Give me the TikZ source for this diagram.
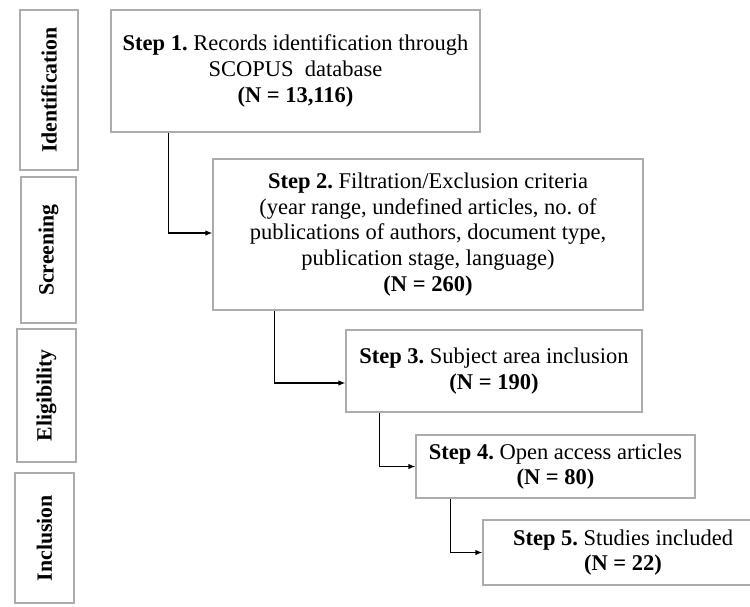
\documentclass[tikz,border=0pt]{standalone}
\usepackage{fontspec}
\setmainfont{Liberation Serif}
\usetikzlibrary{arrows.meta}
\begin{document}
\frenchspacing
\begin{tikzpicture}[x=1pt,y=1pt,
  stepbox/.style={draw=gray!65, line width=1.1pt, align=center, inner sep=0pt,
    font=\fontsize{22.5}{25.8}\selectfont},
  phasebox/.style={draw=gray!65, line width=1.1pt, inner sep=0pt, rotate=90,
    font=\fontsize{21.8}{24}\selectfont\bfseries},
  arr/.style={line width=1.6pt, -{Latex[length=7pt,width=5.5pt]}}]
\useasboundingbox (0,0) rectangle (750,-606);
\clip (0,0) rectangle (750,-606);
\fill[white] (0,0) rectangle (750,-606);
% phase labels
\node[phasebox, minimum width=160pt, minimum height=58pt] (ph1) at (49,-90) {Identification};
\node[phasebox, minimum width=146pt, minimum height=55pt] (ph2) at (48.5,-250) {Screening};
\node[phasebox, minimum width=133pt, minimum height=59pt] (ph3) at (46.5,-395.5) {Eligibility};
\node[phasebox, minimum width=130pt, minimum height=59pt] (ph4) at (44.5,-538) {Inclusion};
% steps
\node[stepbox, minimum width=369pt, minimum height=122pt] (s1) at (295.5,-71)
  {\textbf{Step 1.} Records identification through\\ SCOPUS~ database\\ \textbf{(N = 13,116)}};
\node[stepbox, minimum width=430pt, minimum height=151pt] (s2) at (428,-234.5)
  {\textbf{Step 2.} Filtration/Exclusion criteria\\ (year range, undefined articles, no. of\\ publications of authors, document type,\\ publication stage, language)\\ \textbf{(N = 260)}};
\node[stepbox, minimum width=296pt, minimum height=82pt] (s3) at (494,-371)
  {\textbf{Step 3.} Subject area inclusion\\ \textbf{(N = 190)}};
\node[stepbox, minimum width=279pt, minimum height=63pt] (s4) at (555.5,-466.5)
  {\textbf{Step 4.} Open access articles\\ \textbf{(N = 80)}};
\node[stepbox, minimum width=280pt, minimum height=65pt] (s5) at (623,-552.5)
  {\textbf{Step 5.} Studies included\\ \textbf{(N = 22)}};
% connectors
\draw[arr] ([xshift=58pt]s1.south west) |- ([yshift=1.5pt]s2.west);
\draw[arr] ([xshift=62pt]s2.south west) |- ([yshift=-12pt]s3.west);
\draw[arr] ([xshift=34pt]s3.south west) |- (s4.west);
\draw[arr] ([xshift=35pt]s4.south west) |- (s5.west);
\end{tikzpicture}
\end{document}
